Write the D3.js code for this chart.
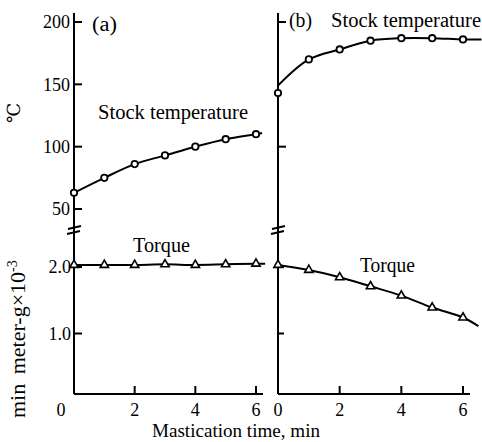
<!DOCTYPE html>
<html><head><meta charset="utf-8">
<script src="https://cdn.jsdelivr.net/npm/d3@7"></script>
<style>body{margin:0;background:#fff}svg{display:block}text{font-family:"Liberation Serif","DejaVu Serif",serif;fill:#000}</style>
</head><body><svg id="c" width="482" height="442"></svg>
<script>
// ---- data ----
const times = [0, 1, 2, 3, 4, 5, 6];
const tempA = [63, 75, 86, 93, 100, 106, 110];
const tempB = [143, 170, 178, 185, 187, 187, 186];
const torqueA = [2.03, 2.03, 2.03, 2.04, 2.03, 2.04, 2.05];
const torqueB = [2.03, 1.955, 1.845, 1.71, 1.57, 1.39, 1.24];
// fitted curve end points
const tempAEnd = [6.2, 111];
const tempBStart = [0, 149];
const tempBEnd = [6.6, 186];
const torqueAEnd = [6.3, 2.05];
const torqueBEnd = [6.5, 1.11];
const xTicks = [0, 2, 4, 6];
const tempTicks = [200, 150, 100, 50];
const torqueTicks = [2.0, 1.0];

const svg = d3.select("#c");
const xA = d3.scaleLinear().domain([0, 6]).range([74, 256]);
const xB = d3.scaleLinear().domain([0, 6]).range([278, 463]);
const yT = d3.scaleLinear().domain([50, 200]).range([209, 22]);
const yQ = d3.scaleLinear().domain([1, 2]).range([333.5, 267]);
const baseY = 394, topY = 13;
const FS = 18, LS = 20;

const g = svg.append("g");
// vertical axes
[xA, xB].forEach(x => {
  const x0 = x(0);
  g.append("line").attr("x1", x0).attr("x2", x0).attr("y1", topY).attr("y2", baseY)
    .attr("stroke", "#000").attr("stroke-width", 2);
  // break mark
  g.append("path").attr("d", `M${x0-6},${229} L${x0+7},${226} M${x0-7},${234} L${x0+6},${231}`)
    .attr("fill", "none").attr("stroke", "#000").attr("stroke-width", 2);
});
// x axes baseline
g.append("line").attr("x1", xA(0)).attr("x2", 263).attr("y1", baseY).attr("y2", baseY).attr("stroke", "#000").attr("stroke-width", 2);
g.append("line").attr("x1", xB(0)).attr("x2", 470).attr("y1", baseY).attr("y2", baseY).attr("stroke", "#000").attr("stroke-width", 2);

// y ticks (inward)
tempTicks.forEach(v => {
  g.append("line").attr("x1", xA(0)).attr("x2", xA(0) + 8).attr("y1", yT(v)).attr("y2", yT(v)).attr("stroke", "#000").attr("stroke-width", 2);
  g.append("text").attr("x", xA(0) - 4).attr("y", yT(v)).attr("dy", "0.35em").attr("text-anchor", "end").attr("font-size", FS).text(v);
});
[200, 100].forEach(v => g.append("line").attr("x1", xB(0)).attr("x2", xB(0) + 8).attr("y1", yT(v)).attr("y2", yT(v)).attr("stroke", "#000").attr("stroke-width", 2));
torqueTicks.forEach(v => {
  g.append("line").attr("x1", xA(0)).attr("x2", xA(0) + 8).attr("y1", yQ(v)).attr("y2", yQ(v)).attr("stroke", "#000").attr("stroke-width", 2);
  g.append("line").attr("x1", xB(0)).attr("x2", xB(0) + 6).attr("y1", yQ(v)).attr("y2", yQ(v)).attr("stroke", "#000").attr("stroke-width", 2);
  g.append("text").attr("x", xA(0) - 3).attr("y", yQ(v)).attr("dy", "0.35em").attr("text-anchor", "end").attr("font-size", FS).text(v.toFixed(1));
});
// x ticks (upward) and labels
[xA, xB].forEach((x, i) => {
  xTicks.forEach(t => {
    if (t > 0) g.append("line").attr("x1", x(t)).attr("x2", x(t)).attr("y1", baseY).attr("y2", baseY - 8).attr("stroke", "#000").attr("stroke-width", 2);
    g.append("text").attr("x", x(t) + (i === 0 && t === 0 ? -13 : 0)).attr("y", 416).attr("text-anchor", "middle").attr("font-size", FS).text(t);
  });
});

// curves
function curve(x, y, pts) {
  return d3.line().x(d => x(d[0])).y(d => y(d[1])).curve(d3.curveCatmullRom.alpha(0.5))(pts);
}
const zip = vals => times.map((t, i) => [t, vals[i]]);
const lines = [
  [xA, yT, zip(tempA).concat([tempAEnd])],
  [xB, yT, [tempBStart].concat(zip(tempB).slice(1)).concat([tempBEnd])],
  [xA, yQ, zip(torqueA).concat([torqueAEnd])],
  [xB, yQ, zip(torqueB).concat([torqueBEnd])]
];
lines.forEach(([x, y, pts]) => g.append("path").attr("d", curve(x, y, pts)).attr("fill", "none").attr("stroke", "#000").attr("stroke-width", 2));

// markers
[[xA, tempA], [xB, tempB]].forEach(([x, vals]) => {
  g.selectAll(null).data(zip(vals)).enter().append("circle")
    .attr("cx", d => x(d[0])).attr("cy", d => yT(d[1])).attr("r", 3.2)
    .attr("fill", "#fff").attr("stroke", "#000").attr("stroke-width", 1.8);
});
const tri = d3.symbol().type(d3.symbolTriangle).size(30);
[[xA, torqueA], [xB, torqueB]].forEach(([x, vals]) => {
  g.selectAll(null).data(zip(vals)).enter().append("path").attr("d", tri)
    .attr("transform", d => `translate(${x(d[0])},${yQ(d[1])})`)
    .attr("fill", "#fff").attr("stroke", "#000").attr("stroke-width", 1.6);
});

// annotations
const txt = (x, y, s, len, size = LS) => {
  const t = g.append("text").attr("x", x).attr("y", y).attr("font-size", size).text(s);
  if (len) t.attr("textLength", len).attr("lengthAdjust", "spacingAndGlyphs");
  return t;
};
txt(92, 31, "(a)", 25);
txt(98, 119, "Stock temperature", 150);
txt(289, 27, "(b)", 23);
txt(331, 27, "Stock temperature", 150);
txt(133, 252, "Torque", 57);
txt(360, 272, "Torque", 55);
txt(152, 437, "Mastication time, min", 168, 19);
// y labels
g.append("text").attr("transform", "translate(20,113) rotate(-90)").attr("text-anchor", "middle").attr("font-size", FS).text("\u2103");
g.append("text").attr("transform", "translate(25,418) rotate(-90)").attr("font-size", 22).attr("word-spacing", 4)
  .html('min meter-g×10<tspan dy="-8" font-size="14">-3</tspan>');
</script></body></html>
